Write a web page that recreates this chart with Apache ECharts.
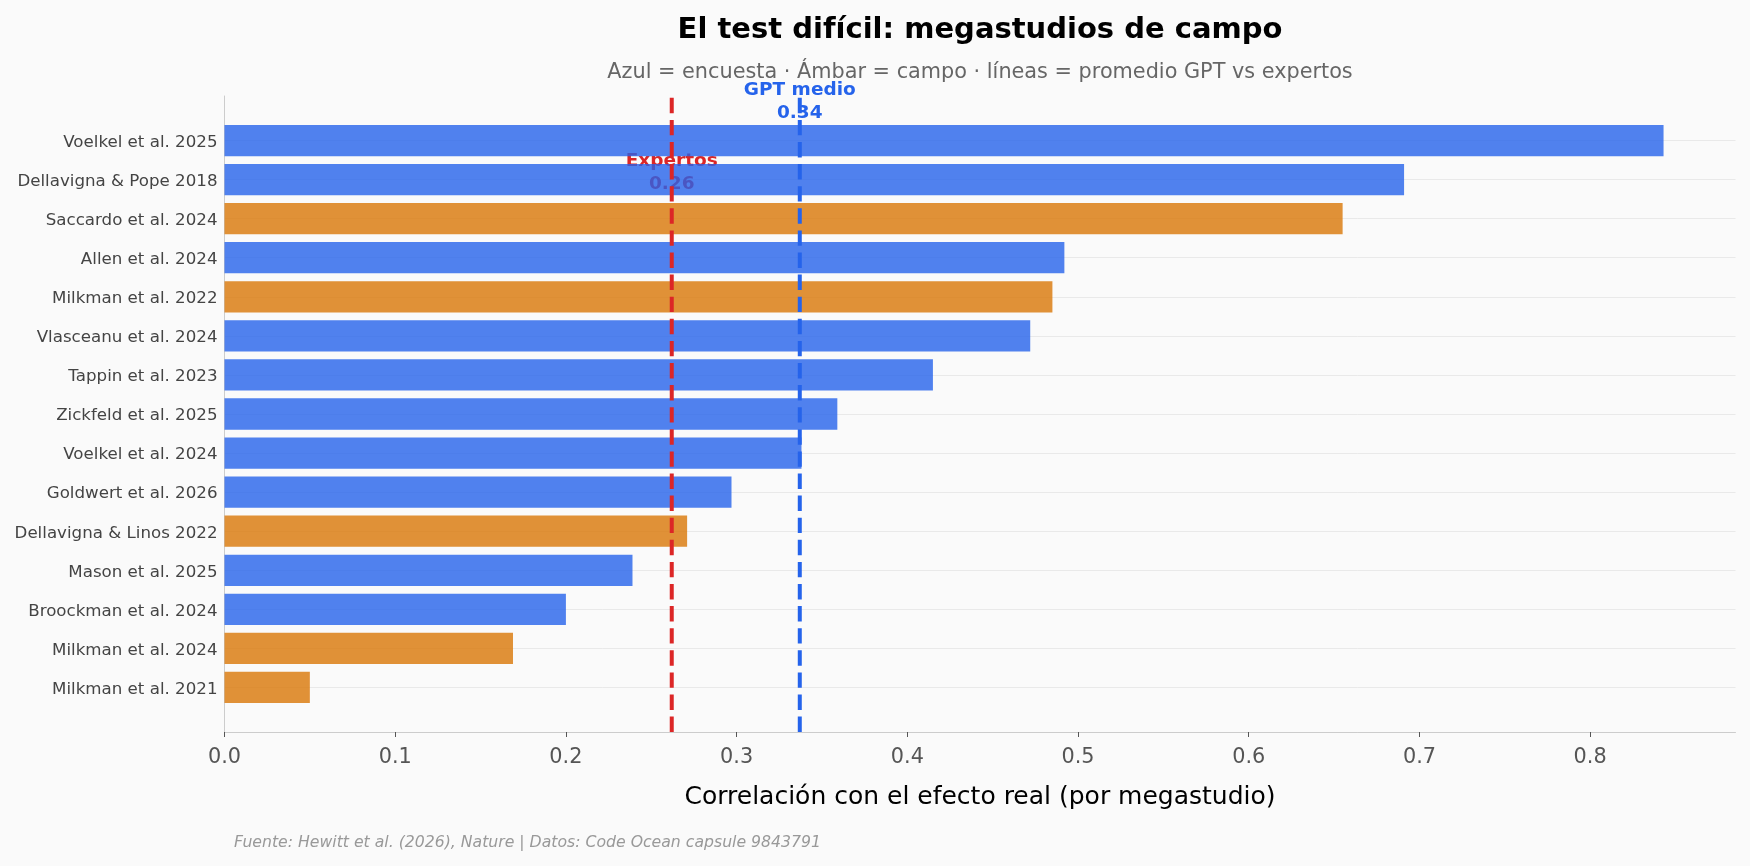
<!DOCTYPE html>
<html>
<head>
<meta charset="utf-8">
<script src="https://cdn.jsdelivr.net/npm/echarts@6/dist/echarts.min.js"></script>
<style>
    html, body { margin: 0; padding: 0; background: #fafafa; }
    #chart { width: 1750px; height: 866px; }
</style>
</head>
<body>
<div id="chart"></div>
<script>
// megastudios, ordenados de mayor a menor correlación
var categories = [
    'Voelkel et al. 2025', 'Dellavigna & Pope 2018', 'Saccardo et al. 2024', 'Allen et al. 2024',
    'Milkman et al. 2022', 'Vlasceanu et al. 2024', 'Tappin et al. 2023', 'Zickfeld et al. 2025',
    'Voelkel et al. 2024', 'Goldwert et al. 2026', 'Dellavigna & Linos 2022', 'Mason et al. 2025',
    'Broockman et al. 2024', 'Milkman et al. 2024', 'Milkman et al. 2021'
];
var values = [0.843, 0.691, 0.655, 0.492, 0.485, 0.472, 0.415, 0.359, 0.338, 0.297, 0.271, 0.239, 0.200, 0.169, 0.050];
var types = ['encuesta', 'encuesta', 'campo', 'encuesta', 'campo', 'encuesta', 'encuesta', 'encuesta',
    'encuesta', 'encuesta', 'campo', 'encuesta', 'encuesta', 'campo', 'campo'];
var tickValues = [0, 0.1, 0.2, 0.3, 0.4, 0.5, 0.6, 0.7, 0.8];

// promedios (líneas verticales)
var refNames = ['GPT medio', 'Expertos'];
var refValues = [0.337, 0.262];

var typeColor = {encuesta: '#2563eb', campo: '#d97706'};
var refColor = ['#2563eb', '#dc2626'];
var refLabelY = [-0.99, 0.82];   // posición vertical del texto (unidades de categoría)

var FONT = 'DejaVu Sans';
var myChart = echarts.init(document.getElementById('chart'));

var n = categories.length;
var pad = 0.05 * (n - 1 + 0.8);
var yLo = -0.4 - pad, yHi = n - 1 + 0.4 + pad;
var xMax = Math.max.apply(null, values) * 1.05;
var plotTop = 96, plotBottom = 732, plotLeft = 224.5, plotRight = 14.5;
var band = (plotBottom - plotTop) / (yHi - yLo);

var series = [];

// líneas de fondo en cada categoría
series.push({
    type: 'line', xAxisIndex: 1, yAxisIndex: 1, data: [], z: 0,
    markLine: {
        z: 0, silent: true, symbol: 'none', animation: false,
        label: {show: false},
        lineStyle: {color: '#e9e9e9', width: 1, type: 'solid'},
        data: categories.map(function (c, i) { return {yAxis: i}; })
    }
});

// textos de las líneas (quedan debajo de las barras)
series.push({
    type: 'scatter', xAxisIndex: 1, yAxisIndex: 1, z: 1,
    symbolSize: 0.1, itemStyle: {color: 'transparent', opacity: 1},
    data: refValues.map(function (v, i) {
        return {value: [v, refLabelY[i]], label: {color: refColor[i]}};
    }),
    label: {
        show: true, position: 'top', distance: 0, align: 'center', verticalAlign: 'middle',
        fontFamily: FONT, fontWeight: 'bold', fontSize: 18.5, lineHeight: 23.5,
        textBorderWidth: 0, opacity: 1,
        formatter: function (p) {
            return refNames[p.dataIndex] + '\n' + refValues[p.dataIndex].toFixed(2);
        }
    }
});

series.push({
    type: 'bar', xAxisIndex: 0, yAxisIndex: 0, z: 2,
    barCategoryGap: '20%',
    itemStyle: {opacity: 0.8},
    data: values.map(function (v, i) {
        return {value: v, itemStyle: {color: typeColor[types[i]]}};
    })
});

refValues.forEach(function (v, i) {
    series.push({
        type: 'line', xAxisIndex: 1, yAxisIndex: 1, z: 3,
        symbol: 'none', silent: true,
        lineStyle: {color: refColor[i], width: 4, type: [15.4, 6.7]},
        data: [[v, yHi], [v, yLo]]
    });
});

option = {
    backgroundColor: '#fafafa',
    animation: false,
    textStyle: {fontFamily: FONT},
    grid: [
        {left: plotLeft, right: plotRight, top: plotTop + (-0.5 - yLo) * band, height: n * band},
        {left: plotLeft, right: plotRight, top: plotTop, height: plotBottom - plotTop}
    ],
    xAxis: [
        {gridIndex: 0, type: 'value', min: 0, max: xMax, show: false},
        {
            gridIndex: 1, type: 'value', min: 0, max: xMax,
            axisLine: {onZero: false, lineStyle: {color: '#cccccc', width: 1}},
            axisTick: {show: true, length: 5, customValues: tickValues, lineStyle: {color: '#555'}},
            axisLabel: {
                customValues: tickValues, fontSize: 20.8, color: '#555', margin: 15, fontFamily: FONT,
                formatter: function (v) { return v.toFixed(1); }
            },
            splitLine: {show: false},
            name: 'Correlación con el efecto real (por megastudio)',
            nameLocation: 'middle', nameGap: 52.5,
            nameTextStyle: {fontSize: 25, color: '#000', fontFamily: FONT}
        }
    ],
    yAxis: [
        {
            gridIndex: 0, type: 'category', data: categories, inverse: true,
            axisLine: {show: false}, axisTick: {show: false}, splitLine: {show: false},
            axisLabel: {
                fontSize: 16.67, color: '#444', margin: 7, fontFamily: FONT,
                verticalAlign: 'top', lineHeight: 16, padding: [-6, 0, 0, 0]
            }
        },
        {
            gridIndex: 1, type: 'value', min: yLo, max: yHi, inverse: true,
            axisLine: {show: true, onZero: false, lineStyle: {color: '#cccccc', width: 1}},
            axisTick: {show: false}, axisLabel: {show: false}, splitLine: {show: false}
        }
    ],
    graphic: [
        {
            type: 'text', x: 980, y: 30,
            style: {
                text: 'El test difícil: megastudios de campo', fill: '#000',
                font: 'bold 29px "DejaVu Sans"', textAlign: 'center', textVerticalAlign: 'middle'
            }
        },
        {
            type: 'text', x: 980, y: 72.5,
            style: {
                text: 'Azul = encuesta · Ámbar = campo · líneas = promedio GPT vs expertos', fill: '#666',
                font: '20.8px "DejaVu Sans"', textAlign: 'center', textVerticalAlign: 'middle'
            }
        },
        {
            type: 'text', x: 234, y: 843,
            style: {
                text: 'Fuente: Hewitt et al. (2026), Nature | Datos: Code Ocean capsule 9843791', fill: '#999',
                font: 'italic 15.7px "DejaVu Sans"', textAlign: 'left', textVerticalAlign: 'middle'
            }
        }
    ],
    series: series
};
myChart.setOption(option);
</script>
</body>
</html>
